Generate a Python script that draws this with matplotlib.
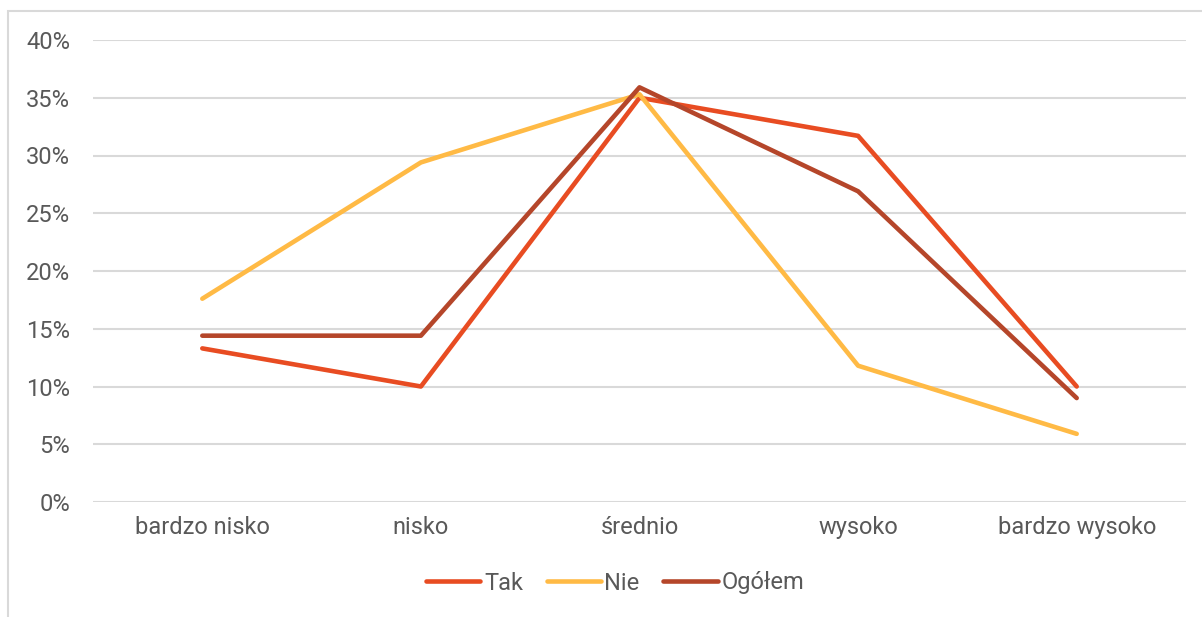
import matplotlib.pyplot as plt
import matplotlib.patches as patches
from matplotlib.ticker import FuncFormatter

plt.rcParams['font.family'] = ['Roboto', 'DejaVu Sans']

# data
categories = ['bardzo nisko', 'nisko', 'średnio', 'wysoko', 'bardzo wysoko']
tak = [13.3, 10.0, 35.0, 31.7, 10.0]
nie = [17.6, 29.4, 35.3, 11.8, 5.9]
ogolem = [14.4, 14.4, 35.9, 26.9, 9.0]

fig = plt.figure(figsize=(12.02, 6.17), dpi=100)
ax = fig.add_axes([93 / 1202, (617 - 502) / 617, (1186 - 93) / 1202, 462 / 617])

# outer chart border
fig.patches.append(patches.Rectangle((8 / 1202, -0.1), 1.2, (617 - 11) / 617 + 0.1,
                                     transform=fig.transFigure, fill=False,
                                     edgecolor='#d9d9d9', linewidth=1.5))

x = range(len(categories))
ax.plot(x, tak, color='#E84C22', lw=3.3, label='Tak', solid_capstyle='round')
ax.plot(x, nie, color='#FFBA45', lw=3.3, label='Nie', solid_capstyle='round')
ax.plot(x, ogolem, color='#B5462A', lw=3.3, label='Ogółem', solid_capstyle='round')

ax.set_xlim(-0.5, 4.5)
ax.set_ylim(0, 40)
ax.set_yticks(range(0, 41, 5))
ax.yaxis.set_major_formatter(FuncFormatter(lambda v, p: f'{v:.0f}%'))
ax.set_xticks(list(x))
ax.set_xticklabels(categories)
ax.grid(axis='y', color='#d9d9d9', lw=1.5)
ax.set_axisbelow(True)
for s in ax.spines.values():
    s.set_visible(False)
ax.tick_params(length=0, labelsize=17, colors='#595959')
ax.tick_params(axis='y', pad=16.5)
ax.tick_params(axis='x', pad=10)

leg = ax.legend(loc='center', bbox_to_anchor=((615 - 93) / 1093, (583 - 502) / -462), ncol=3,
                frameon=False, fontsize=17, handlelength=2.3, handletextpad=0.15,
                columnspacing=1.0)
for t in leg.get_texts():
    t.set_color('#595959')

fig.savefig('out.png', dpi=100)
